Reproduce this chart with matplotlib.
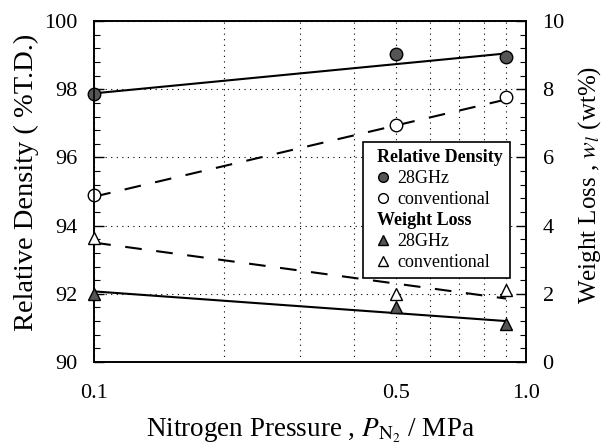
import numpy as np
import matplotlib
matplotlib.use('Agg')
import matplotlib.pyplot as plt
from matplotlib.lines import Line2D
from matplotlib.patches import Rectangle
from matplotlib.ticker import AutoMinorLocator, NullFormatter

plt.rcParams['font.family'] = ['Liberation Serif', 'DejaVu Serif']
plt.rcParams['mathtext.fontset'] = 'stix'

# Data
pressure = [0.1, 0.5, 0.9]          # MPa
rd_28ghz = [97.85, 99.02, 98.95]    # relative density, %T.D.
rd_conv = [94.9, 96.95, 97.77]
wl_28ghz = [2.0, 1.6, 1.1]          # weight loss, wt%
wl_conv = [3.64, 1.98, 2.12]

# fitted lines (end points at 0.1 and 0.9 MPa)
fit_p = [0.1, 0.9]
rd_28ghz_fit = [97.88, 99.05]
rd_conv_fit = [94.85, 97.7]
wl_28ghz_fit = [2.07, 1.2]
wl_conv_fit = [3.5, 1.86]

xticks = [0.1, 0.5, 1.0]
xtick_labels = ['0.1', '0.5', '1.0']

fig = plt.figure(figsize=(6.08, 4.48), dpi=100)
ax = fig.add_axes([0.155, 0.192, 0.71, 0.761])
ax2 = ax.twinx()

ax.set_xscale('log')
ax.set_xlim(0.1, 1.0)
ax.set_ylim(90, 100)
ax2.set_ylim(0, 10)

ax.set_xticks(xticks)
ax.set_xticklabels(xtick_labels)
ax.set_xticks([0.2, 0.3, 0.4, 0.6, 0.7, 0.8, 0.9], minor=True)
ax.xaxis.set_minor_formatter(NullFormatter())
ax.set_yticks([90, 92, 94, 96, 98, 100])
ax2.set_yticks([0, 2, 4, 6, 8, 10])
ax.yaxis.set_minor_locator(AutoMinorLocator(5))
ax2.yaxis.set_minor_locator(AutoMinorLocator(5))

ax.grid(True, which='both', axis='x', linestyle=(0, (1, 4)), color='k', lw=0.8)
ax.grid(True, which='major', axis='y', linestyle=(0, (1, 4)), color='k', lw=0.8)

for a in (ax, ax2):
    a.tick_params(which='both', direction='in', labelsize=16, top=False)
    a.tick_params(which='major', length=7, width=1, pad=12)
    a.tick_params(which='minor', length=4, width=0.8, pad=12)
    for s in a.spines.values():
        s.set_linewidth(1.2)
ax.tick_params(axis='x', which='both', length=0, pad=16)
ax.tick_params(axis='y', right=False)

mk = dict(markersize=9, markeredgecolor='k', markeredgewidth=1, linestyle='none', clip_on=False, zorder=5)

ax.plot(fit_p, rd_28ghz_fit, '-', color='k', lw=1.5)
ax.plot(fit_p, rd_conv_fit, color='k', lw=1.5, dashes=(8, 7))
ax.plot(pressure, rd_28ghz, marker='o', markerfacecolor='#555555', **mk)
ax.plot(pressure, rd_conv, marker='o', markerfacecolor='white', **mk)

ax2.plot(fit_p, wl_28ghz_fit, '-', color='k', lw=1.5)
ax2.plot(fit_p, wl_conv_fit, color='k', lw=1.5, dashes=(8, 7))
ax2.plot(pressure, wl_28ghz, marker='^', markerfacecolor='#555555', **mk)
ax2.plot(pressure, wl_conv, marker='^', markerfacecolor='white', **mk)

ax.set_ylabel('Relative Density ( %T.D.)', fontsize=20.5, labelpad=4)
ax2.set_ylabel('Weight Loss , $w_l$ (wt%)', fontsize=18, labelpad=8)
ax.set_xlabel('Nitrogen Pressure , $P_{\\mathrm{N_2}}$ / MPa', fontsize=19.5, labelpad=10)
ax.yaxis.label.set_y(0.528)
ax2.yaxis.label.set_y(0.52)

blank = Line2D([], [], linestyle='none')
lmk = dict(markersize=7, markeredgecolor='k', markeredgewidth=1, linestyle='none')
handles = [blank,
           Line2D([], [], marker='o', markerfacecolor='#555555', **lmk),
           Line2D([], [], marker='o', markerfacecolor='white', **lmk),
           blank,
           Line2D([], [], marker='^', markerfacecolor='#555555', **lmk),
           Line2D([], [], marker='^', markerfacecolor='white', **lmk)]
labels = ['Relative Density', '28GHz', 'conventional',
          'Weight Loss', '28GHz', 'conventional']
leg_fs = 13
extra = 7  # additional left padding of the frame, px
leg = ax2.legend(handles, labels, loc='upper left',
                 bbox_to_anchor=(0.623 + extra / 432, 0.645),
                 fontsize=leg_fs, frameon=False,
                 handlelength=0.6, handletextpad=0.5, labelspacing=0.22,
                 borderpad=0.4, borderaxespad=0)
leg.set_zorder(7)
# headers: bold and pulled left over the marker column
shift = 1.1 * leg_fs * fig.dpi / 72
for i in (0, 3):
    t = leg.get_texts()[i]
    t.set_fontweight('bold')
    t.set_x(-shift)

# frame drawn by hand so that it follows the shifted headers
fig.canvas.draw()
bb = leg.get_window_extent()
fw, fh = fig.bbox.width, fig.bbox.height
ax2.add_patch(Rectangle(((bb.x0 - extra) / fw, bb.y0 / fh),
                        (bb.width - shift + extra) / fw, bb.height / fh,
                        transform=fig.transFigure, facecolor='white',
                        edgecolor='k', lw=1.2, zorder=6, clip_on=False))

fig.savefig('out.png', dpi=100)
